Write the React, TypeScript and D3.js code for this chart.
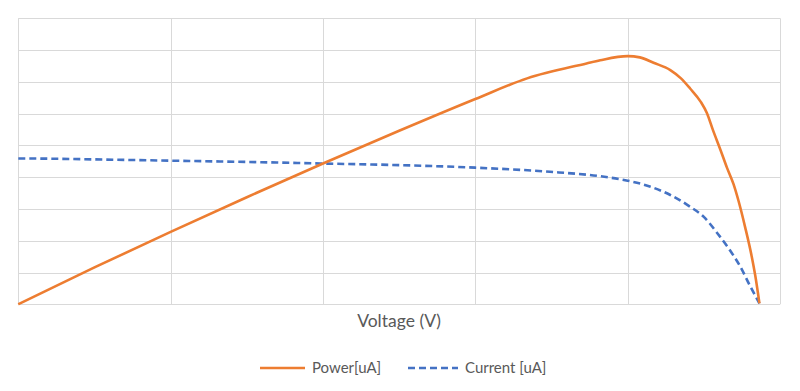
import React, { useEffect, useRef } from 'react';
import * as d3 from 'd3';

// Voltage (x, in grid units) and readings for each series
const powerV = [0, 0.5, 1, 1.5, 2, 2.5, 3, 3.34, 3.73, 3.82, 4.0, 4.08, 4.17, 4.28, 4.35, 4.41, 4.48, 4.52, 4.56, 4.61, 4.651, 4.695, 4.728, 4.771, 4.815, 4.837, 4.865];
const powerUA = [0, 1.16, 2.28, 3.37, 4.43, 5.46, 6.46, 7.11, 7.58, 7.68, 7.81, 7.77, 7.6, 7.37, 7.11, 6.79, 6.37, 6.02, 5.48, 4.85, 4.31, 3.78, 3.25, 2.43, 1.49, 0.92, 0.03];

const currentV = [0, 0.25, 0.5, 1, 1.5, 2, 2.5, 3, 3.49, 3.82, 4.0, 4.15, 4.28, 4.41, 4.5, 4.59, 4.67, 4.74, 4.8, 4.865];
const currentUA = [4.59, 4.58, 4.56, 4.52, 4.48, 4.43, 4.38, 4.3, 4.17, 4.03, 3.89, 3.7, 3.44, 3.07, 2.75, 2.23, 1.71, 1.18, 0.61, 0.03];

const xTicks = [0, 1, 2, 3, 4, 5];
const yTicks = [0, 1, 2, 3, 4, 5, 6, 7, 8, 9];

const seriesNames = ['Power[uA]', 'Current [uA]'];

export default function App() {
  const svgRef = useRef<SVGSVGElement>(null);

  useEffect(() => {
    if (!svgRef.current) return;
    document.body.style.margin = '0';

    const svg = d3.select(svgRef.current);
    svg.selectAll('*').remove();

    const margin = { top: 18.3, left: 18.3 };
    const width = 780 - 18.3,
      height = 304.3 - 18.3;

    const g = svg.append('g').attr('transform', `translate(${margin.left},${margin.top})`);

    const x = d3.scaleLinear().domain([0, 5]).range([0, width]);
    const y = d3.scaleLinear().domain([0, 9]).range([height, 0]);

    // Gridlines
    g.append('g')
      .selectAll('line')
      .data(yTicks)
      .enter()
      .append('line')
      .attr('x1', 0)
      .attr('x2', width)
      .attr('y1', d => Math.round(y(d) + margin.top) - margin.top + 0.5)
      .attr('y2', d => Math.round(y(d) + margin.top) - margin.top + 0.5)
      .attr('stroke', '#d9d9d9')
      .attr('stroke-width', 1);

    g.append('g')
      .selectAll('line')
      .data(xTicks)
      .enter()
      .append('line')
      .attr('x1', d => Math.round(x(d) + margin.left) - margin.left + 0.5)
      .attr('x2', d => Math.round(x(d) + margin.left) - margin.left + 0.5)
      .attr('y1', 0)
      .attr('y2', height)
      .attr('stroke', '#d9d9d9')
      .attr('stroke-width', 1);

    const line = d3
      .line<[number, number]>()
      .x(d => x(d[0]))
      .y(d => y(d[1]))
      .curve(d3.curveMonotoneX);

    const powerData = powerV.map((v, i) => [v, powerUA[i]] as [number, number]);
    const currentData = currentV.map((v, i) => [v, currentUA[i]] as [number, number]);

    g.append('path')
      .datum(currentData)
      .attr('d', line)
      .attr('fill', 'none')
      .attr('stroke', '#4472C4')
      .attr('stroke-width', 2.6)
      .attr('stroke-dasharray', '7,4');

    g.append('path')
      .datum(powerData)
      .attr('d', line)
      .attr('fill', 'none')
      .attr('stroke', '#ED7D31')
      .attr('stroke-width', 2.6)
      .attr('stroke-linejoin', 'round');

    // Axis title
    svg.append('text')
      .attr('x', 399)
      .attr('y', 327)
      .attr('text-anchor', 'middle')
      .attr('font-family', 'Lato, "Open Sans", sans-serif')
      .attr('font-size', 17.5)
      .attr('fill', '#595959')
      .text('Voltage (V)');

    // Legend
    const legend = [
      { name: seriesNames[0], color: '#ED7D31', dash: null, x1: 260, x2: 305 },
      { name: seriesNames[1], color: '#4472C4', dash: '7,4', x1: 408, x2: 458 },
    ];
    const lg = svg.append('g');
    legend.forEach(l => {
      lg.append('line')
        .attr('x1', l.x1)
        .attr('x2', l.x2)
        .attr('y1', 368)
        .attr('y2', 368)
        .attr('stroke', l.color)
        .attr('stroke-width', 2.6)
        .attr('stroke-dasharray', l.dash);
      lg.append('text')
        .attr('x', l.x2 + 7)
        .attr('y', 373)
        .attr('font-family', 'Lato, "Open Sans", sans-serif')
        .attr('font-size', 15)
        .attr('fill', '#595959')
        .text(l.name);
    });
  }, []);

  return (
    <div style={{ width: 800, height: 391 }}>
      <svg ref={svgRef} width={800} height={391} style={{ display: 'block', background: '#fff' }}></svg>
    </div>
  );
}
